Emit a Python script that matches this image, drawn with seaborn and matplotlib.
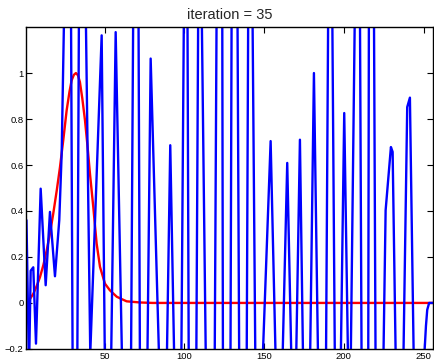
import numpy as np
import pandas as pd
import matplotlib
matplotlib.use("Agg")
import matplotlib.pyplot as plt
import seaborn as sns

# Target pulse (red)
target_x = [1, 3, 5.3, 7.5, 9.5, 11.6, 13.7, 15.8, 17.8, 20, 22, 24.1, 26.2,
            28, 29.3, 30.7, 32, 33.3, 34.5, 36, 37.7, 39.3, 40.8, 42.9, 45,
            47.1, 50.2, 53.3, 57.6, 60, 63.8, 72.2, 80, 256]
target_y = [0.0, 0.015, 0.04, 0.075, 0.113, 0.165, 0.229, 0.305, 0.389, 0.49,
            0.59, 0.71, 0.838, 0.92, 0.968, 0.992, 1.0, 0.99, 0.961, 0.89,
            0.794, 0.68, 0.563, 0.417, 0.258, 0.157, 0.084, 0.055, 0.027,
            0.019, 0.007, 0.002, 0.0, 0.0]

# Current estimate (blue) after 35 iterations
estimate_x = [1, 2.6, 3.63, 5.26, 6.96, 9.9, 13.04, 15.73, 18.87, 21.56, 23.07,
              24.7, 28.9, 29.97, 32.85, 33.92, 38.12, 41.0, 48.15, 50.22,
              53.98, 56.93, 61.06, 66.52, 67.96, 71.22, 72.16, 76.74, 78.87,
              84.39, 88.9, 91.16, 93.79, 98.05, 99.75, 101.94, 102.76,
              107.46, 108.71, 110.84, 113.54, 118.99, 120.25, 123.76, 124.2,
              128.9, 129.65, 133.29, 134.42, 139.06, 140.06, 142.69, 144.57,
              148.84, 154.1, 157.43, 161.38, 164.51, 167.27, 169.97, 172.47,
              174.54, 178.74, 181.25, 183.95, 188.78, 190.22, 192.72, 194.42,
              197.99, 200.25, 202.75, 204.26, 206.96, 210.09, 211.16, 215.3,
              215.73, 218.87, 219.93, 224.7, 226.21, 229.53, 230.6, 232.66,
              237.24, 239.75, 241.44, 243.95, 249.9, 251.5, 252.3, 253.5, 256]
estimate_y = [0.36, -0.3, 0.14, 0.155, -0.177, 0.497, 0.077, 0.396, 0.116,
              0.36, 0.65, 1.3, 1.3, -0.3, -0.3, 1.3, 1.3, -0.22, 1.164, -0.3,
              -0.3, 1.178, -0.3, -0.3, 1.3, 1.3, -0.3, -0.3, 1.063, -0.3,
              -0.3, 0.686, -0.3, -0.3, 1.3, 1.3, -0.3, -0.3, 1.3, 1.3, -0.3,
              -0.3, 1.3, 1.3, -0.3, -0.3, 1.3, 1.3, -0.3, -0.3, 1.3, 1.3,
              -0.3, -0.3, 0.704, -0.3, -0.3, 0.609, -0.3, -0.3, 0.71, -0.3,
              -0.3, 1.0, -0.3, -0.3, 1.3, 1.3, -0.3, -0.3, 0.826, -0.3, -0.3,
              1.3, 1.3, -0.3, -0.3, 1.3, 1.3, -0.3, -0.3, 0.403, 0.678, 0.657,
              -0.3, -0.3, 0.852, 0.893, -0.3, -0.3, -0.1, -0.03, 0.0, 0.0]

x_ticks = [50, 100, 150, 200, 250]
y_ticks = [-0.2, 0, 0.2, 0.4, 0.6, 0.8, 1]
y_tick_labels = ["\u22120.2", "0", "0.2", "0.4", "0.6", "0.8", "1"]
title = "iteration = 35"

sns.set_style("ticks")
plt.rcParams["font.family"] = ["Liberation Sans", "DejaVu Sans"]

fig = plt.figure(figsize=(4.34, 3.61), dpi=100)
ax = fig.add_axes([0.061, 0.0335, 0.937, 0.8915])

target = pd.DataFrame({"x": target_x, "y": target_y})
estimate = pd.DataFrame({"x": estimate_x, "y": estimate_y})

sns.lineplot(data=target, x="x", y="y", ax=ax, color="#ff0000",
             linewidth=1.7, estimator=None, sort=False)
sns.lineplot(data=estimate, x="x", y="y", ax=ax, color="#0000ff",
             linewidth=1.7, estimator=None, sort=False)

ax.set_xlim(1, 256)
ax.set_ylim(-0.2, 1.2)
ax.set_xticks(x_ticks)
ax.set_xticklabels([str(t) for t in x_ticks])
ax.set_yticks(y_ticks)
ax.set_yticklabels(y_tick_labels)
ax.set_xlabel("")
ax.set_ylabel("")
ax.tick_params(direction="in", length=4, width=0.8, labelsize=6.8,
               top=True, right=True, pad=2, colors="black")
for s in ax.spines.values():
    s.set_visible(True)
    s.set_linewidth(1.0)
    s.set_color("black")
ax.set_title(title, fontsize=10.5, pad=6)

fig.savefig("out.png", dpi=100)
